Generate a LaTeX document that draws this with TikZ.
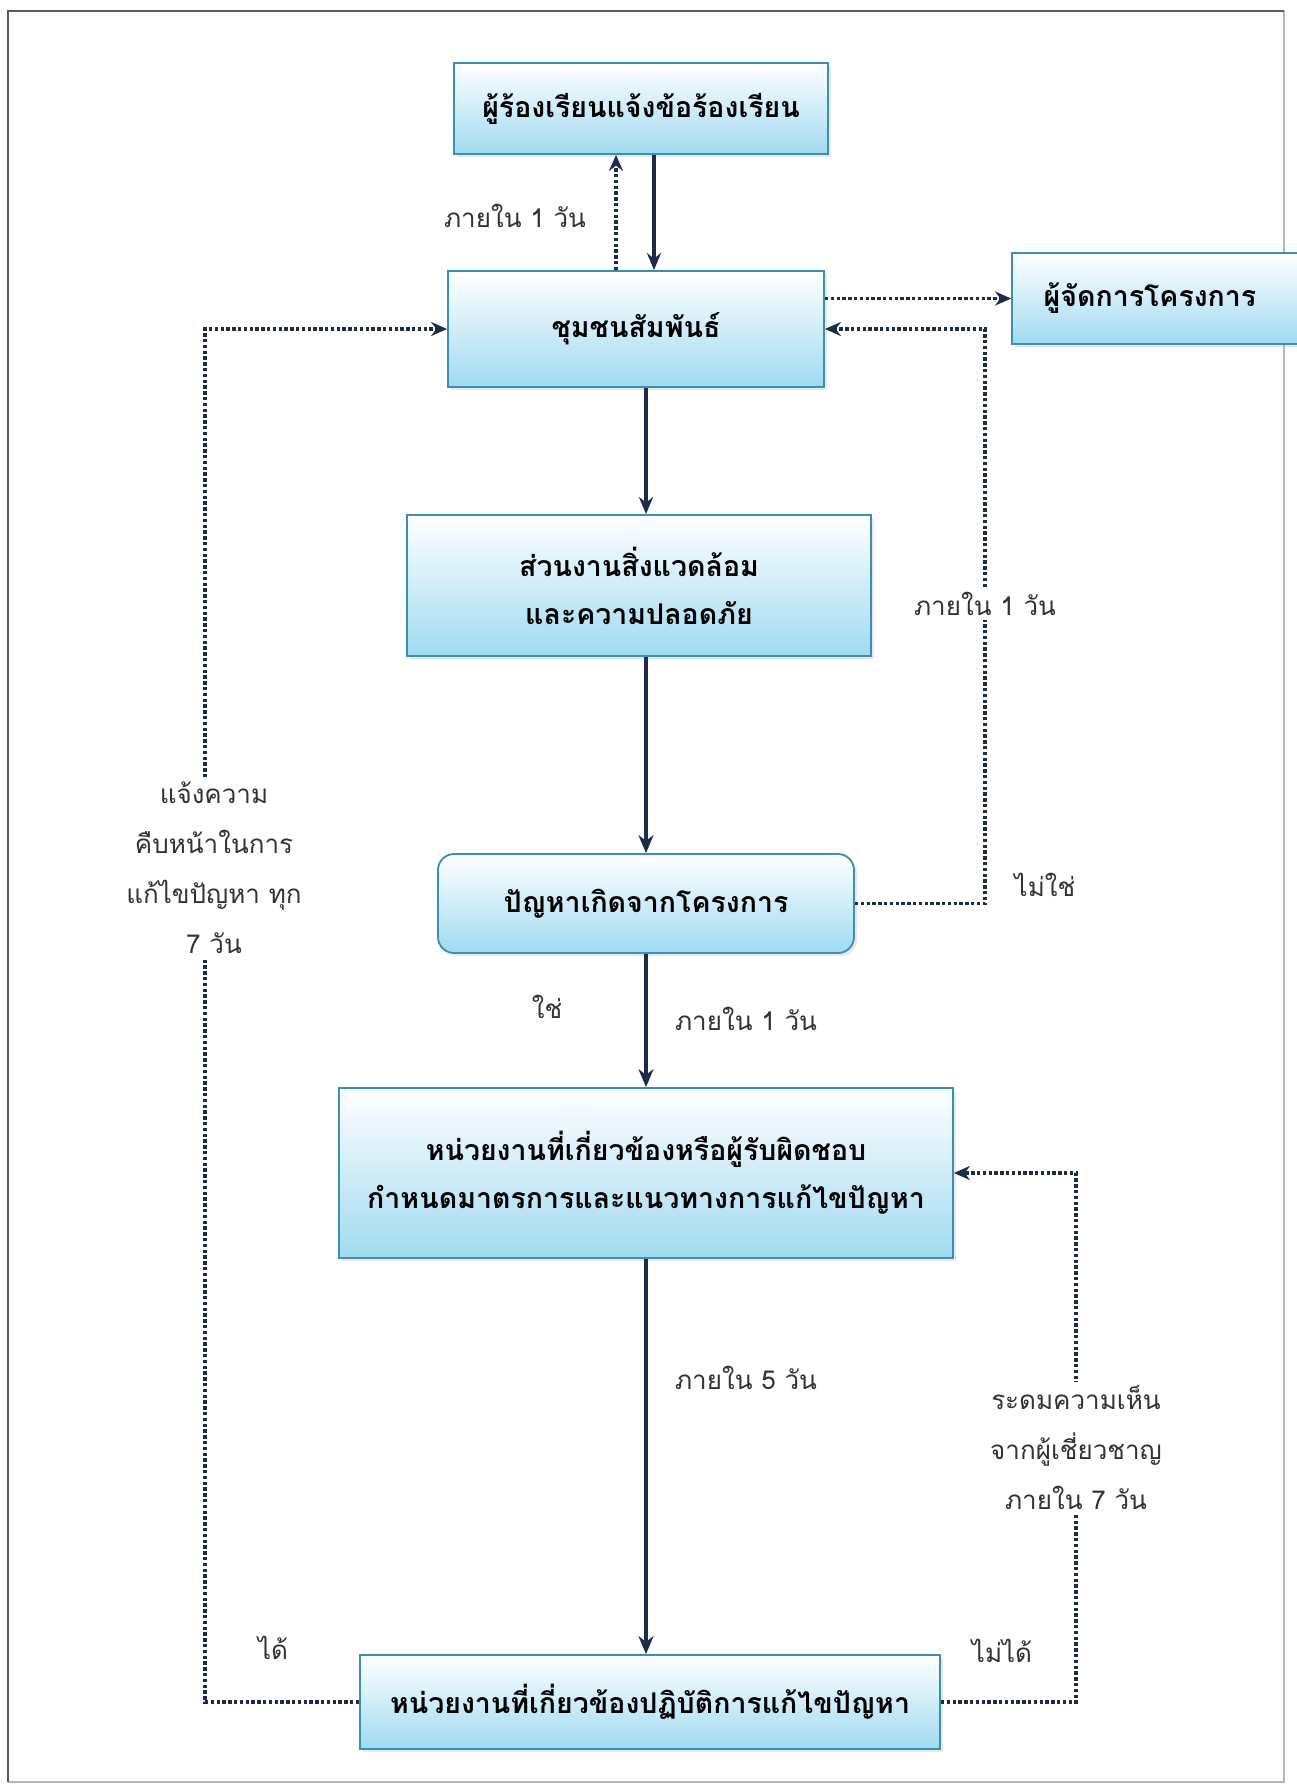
\documentclass[tikz,border=0pt]{standalone}
\usepackage{fontspec}
\setmainfont[Script=Thai]{Loma}
\usetikzlibrary{arrows.meta,calc,shadows}
\definecolor{boxline}{HTML}{3A8FB5}
\definecolor{boxlow}{HTML}{A0DAF1}
\definecolor{navy}{HTML}{1E2B4A}
\definecolor{framegray}{HTML}{5A5A5A}

\begin{document}
\begin{tikzpicture}[x=1pt,y=-1pt,
  box/.style={draw=boxline, line width=1.8pt, top color=white, bottom color=boxlow,
    inner sep=0pt, align=center, text=black,
    font=\bfseries\fontsize{28.5}{48}\selectfont,
    drop shadow={shadow xshift=3pt, shadow yshift=-3pt, opacity=0.18}},
  mainarrow/.style={draw=navy, line width=4.4pt, -{Stealth[length=18pt,width=15pt]}},
  thinarrow/.style={draw=navy, line width=3.2pt, -{Stealth[length=17pt,width=14pt]}},
  dotline/.style={draw=navy, line width=3.4pt, dash pattern=on 3.4pt off 2.4pt},
  dotarrow/.style={dotline, -{Stealth[length=16pt,width=14pt]}},
  lbl/.style={font=\fontsize{26}{50}\selectfont, text=black!80, align=center, inner sep=4pt},
  gap/.style={lbl, fill=white}]

\useasboundingbox (0,0) rectangle (1296,1786);
\fill[white] (0,0) rectangle (1296,1786);

% page frame
\draw[framegray!45, line width=1.2pt] (1284,11) -- (1284,1782) -- (8,1782);
\draw[framegray, line width=2.6pt] (8,1782) -- (8,11) -- (1284,11);

% boxes
\node[box, minimum width=374pt, minimum height=91pt] (b1) at (641,108.5)
  {ผู้ร้องเรียนแจ้งข้อร้องเรียน};
\node[box, minimum width=376pt, minimum height=116pt] (b2) at (636,329)
  {ชุมชนสัมพันธ์};
\node[box, minimum width=288pt, minimum height=91pt] (mgr) at (1156,298.5)
  {\hspace*{-2pt}ผู้จัดการโครงการ\hspace*{10pt}};
\node[box, minimum width=464pt, minimum height=141pt] (b3) at (639,585.5)
  {ส่วนงานสิ่งแวดล้อม\\และความปลอดภัย};
\node[box, rounded corners=16pt, minimum width=416pt, minimum height=99pt] (dec) at (646,903.5)
  {ปัญหาเกิดจากโครงการ};
\node[box, minimum width=614pt, minimum height=170pt] (b5) at (646,1173)
  {หน่วยงานที่เกี่ยวข้องหรือผู้รับผิดชอบ\\กำหนดมาตรการและแนวทางการแก้ไขปัญหา};
\node[box, minimum width=580pt, minimum height=94pt] (b6) at (650,1702)
  {หน่วยงานที่เกี่ยวข้องปฏิบัติการแก้ไขปัญหา};

% reference columns for the connectors
\coordinate (upx) at (616,0);
\coordinate (downx) at (654,0);
\coordinate (mx) at (646,0);
\coordinate (rturn) at (985,329);
\coordinate (lx) at (205,0);
\coordinate (rturn2) at (1076,1173);

% main flow
\draw[thinarrow] (b1.south -| downx) -- (b2.north -| downx);
\draw[dotarrow] (b2.north -| upx) -- (b1.south -| upx);
\draw[thinarrow] (b2.south -| mx) -- (b3.north -| mx);
\draw[mainarrow] (b3.south -| mx) -- (dec.north);
\draw[mainarrow] (dec.south) -- (b5.north);
\draw[mainarrow] (b5.south) -- (b6.north -| mx);

% side loops
\draw[dotarrow] (b2.east |- mgr.west) -- (mgr.west);
\draw[dotarrow] (dec.east) -| (rturn) -- (b2.east);
\draw[dotarrow] (b6.west) -- (b6.west -| lx) |- (b2.west);
\draw[dotarrow] (b6.east) -| (rturn2) -- (b5.east);

% labels
\node[lbl] (t1) at (515,216) {ภายใน 1 วัน};
\node[gap] (t2) at (985,604) {ภายใน 1 วัน};
\node[lbl] (t3) at (1045,885) {ไม่ใช่};
\node[gap] (t4) at (214,868) {แจ้งความ\\คืบหน้าในการ\\แก้ไขปัญหา ทุก\\7 วัน};
\node[lbl] (t5) at (547,1007) {ใช่};
\node[lbl] (t6) at (746,1019) {ภายใน 1 วัน};
\node[lbl] (t7) at (746,1378) {ภายใน 5 วัน};
\node[gap] (t8) at (1076,1448) {ระดมความเห็น\\จากผู้เชี่ยวชาญ\\ภายใน 7 วัน};
\node[lbl] (t9) at (273,1648) {ได้};
\node[lbl] (t10) at (1002,1651) {ไม่ได้};
\end{tikzpicture}
\end{document}
